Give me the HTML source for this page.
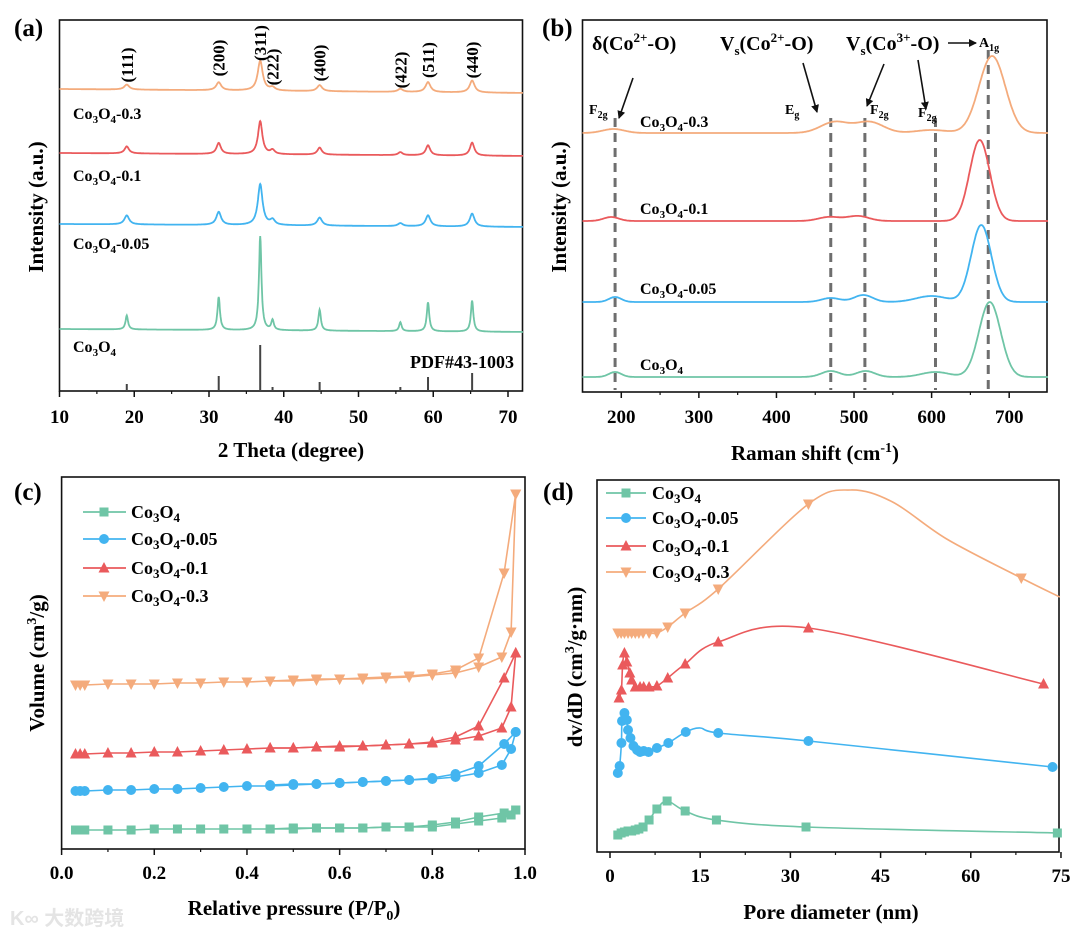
<!DOCTYPE html>
<html><head><meta charset="utf-8"><style>
html,body{margin:0;padding:0;background:#fff;}
svg{display:block;font-family:"Liberation Serif","DejaVu Serif",serif;font-weight:bold;}
</style></head><body>
<svg id="fig" width="1080" height="934" viewBox="0 0 1080 934" xmlns="http://www.w3.org/2000/svg">
<rect x="0" y="0" width="1080" height="934" fill="#fff"/>
<text x="14" y="36" font-size="25">(a)</text>
<text x="542" y="36" font-size="25">(b)</text>
<text x="14" y="500" font-size="25">(c)</text>
<text x="543" y="500" font-size="25">(d)</text>
<text x="291" y="457" font-size="21" text-anchor="middle">2 Theta (degree)</text>
<text transform="translate(43,207) rotate(-90)" font-size="21" text-anchor="middle">Intensity (a.u.)</text>
<text x="815" y="460" font-size="21" text-anchor="middle">Raman shift (cm<tspan dy="-8" font-size="14">-1</tspan><tspan dy="8">)</tspan></text>
<text transform="translate(566,207) rotate(-90)" font-size="21" text-anchor="middle">Intensity (a.u.)</text>
<text x="294" y="915" font-size="21" text-anchor="middle">Relative pressure (P/P<tspan dy="5" font-size="14">0</tspan><tspan dy="-5">)</tspan></text>
<text transform="translate(44,663) rotate(-90)" font-size="21" text-anchor="middle">Volume (cm<tspan dy="-8" font-size="14">3</tspan><tspan dy="8">/g)</tspan></text>
<text x="831" y="919" font-size="21" text-anchor="middle">Pore diameter (nm)</text>
<text transform="translate(582,667) rotate(-90)" font-size="21" text-anchor="middle">dv/dD (cm<tspan dy="-8" font-size="14">3</tspan><tspan dy="8">/g·nm)</tspan></text>
<text x="10" y="925" font-size="20" fill="#e4e4e4" font-family="'Liberation Sans','Noto Sans CJK SC',sans-serif">K∞ 大数跨境</text>
</svg>
<script>
// ---------- data ----------
const xrdPos = [19.0, 31.3, 36.85, 38.5, 44.8, 55.6, 59.3, 65.2];
const xrdLabels = ["(111)","(200)","(311)","(222)","(400)","(422)","(511)","(440)"];
const xrdHGreen = [14, 33, 94, 10, 21, 9, 29, 31];
const xrdHBlue = [9, 13, 41, 5, 8, 3, 11, 13];
const xrdHRed = [7, 11, 33, 4, 7, 3, 10, 13];
const xrdHOrange = [5, 8, 30, 3, 6, 3, 10, 12];
const xrdBaseStart = [62, 167, 238, 302];
const xrdBaseEnd = [59, 164, 235, 298];
const stickH = [7, 15, 46, 4, 9, 4, 14, 18];

const ramPosGreen = [192, 470, 515, 605, 675], ramHGreen = [5, 6, 6, 5, 75], ramWGreen = [8, 12, 12, 18, 14];
const ramPosBlue = [192, 470, 512, 600, 664], ramHBlue = [5, 4, 7, 6, 77], ramWBlue = [8, 12, 12, 20, 13];
const ramPosRed = [187, 468, 505, 662], ramHRed = [4, 4, 5, 81], ramWRed = [10, 14, 14, 13];
const ramPosOrange = [190, 475, 520, 600, 678], ramHOrange = [4, 11, 11, 3, 77], ramWOrange = [14, 18, 18, 20, 17];
const ramBase = [15, 90, 171, 259];
const ramDash = [192, 470, 514, 605, 673];

const bxAds = [0.03,0.04,0.05,0.1,0.15,0.2,0.25,0.3,0.35,0.4,0.45,0.5,0.55,0.6,0.65,0.7,0.75,0.8,0.85,0.9,0.95,0.97,0.98];
const bxDes = [0.98,0.955,0.9,0.85,0.8,0.75,0.7,0.65,0.6,0.55,0.5,0.45];
const cAdsGreen = [19,19,19,19,19,20,20,20,20,20,20,21,21,21,21,22,22,22,25,28,31,34,39];
const cDesGreen = [39,36,32,27,24,22,22,21,21,21,20,20];
const cAdsBlue = [58,58,58,59,59,60,60,61,62,63,63,64,65,66,67,68,69,70,72,76,84,100,117];
const cDesBlue = [117,105,83,75,71,69,68,67,66,65,65,64];
const cAdsRed = [95,95,95,96,96,97,97,98,99,100,101,101,102,103,103,104,105,106,109,113,121,142,196];
const cDesRed = [196,171,123,112,107,105,104,103,102,102,101,101];
const cAdsOrange = [164,164,164,165,165,165,166,166,167,167,168,168,169,170,170,171,172,174,176,182,192,217,355];
const cDesOrange = [355,276,191,179,175,173,172,171,170,170,169,168];

const dXGreen = [1.3,1.85,2.4,3.0,3.6,4.2,4.8,5.5,6.5,7.8,9.5,12.5,17.7,32.6,74.4];
const dYGreen = [17,19,20,21,21,22,23,25,32,43,51,41,32,25,19];
const dXBlue = [1.3,1.6,1.9,2.0,2.4,2.8,3.0,3.4,3.9,4.5,5.0,5.6,6.4,7.8,9.7,12.6,18.0,33.0,73.6];
const dYBlue = [79,86,109,131,139,132,122,114,106,102,100,101,100,104,109,120,119,111,85];
const dXRed = [1.5,1.9,2.1,2.4,2.8,3.3,3.6,4.2,5.0,5.6,6.5,7.8,9.6,12.5,18.0,33.0,72.1];
const dYRed = [154,162,187,199,190,179,172,165,165,165,165,166,174,188,210,224,168];
const dXOrange = [1.3,1.85,2.4,3.0,3.6,4.2,4.8,5.5,6.5,7.8,9.6,12.5,18.0,33.0,68.4];
const dYOrange = [219,219,219,219,219,219,219,219,219,219,225,239,263,348,274];
const knotXBlue = [15], knotYBlue = [124];
const knotXRed = [], knotYRed = [];
const knotXOrange = [40, 47, 56, 74.8], knotYOrange = [362, 350, 313, 255];

const tickA = [10,20,30,40,50,60,70];
const tickB = [200,300,400,500,600,700];
const tickC = [0,0.2,0.4,0.6,0.8,1.0];
const tickD = [0,15,30,45,60,75];

// ---------- helpers ----------
const NS = "http://www.w3.org/2000/svg";
const svg = document.getElementById("fig");
const COL = {green:"#6fc5a6", blue:"#42b4f0", red:"#ea5a5c", orange:"#f4ab7c"};
function add(parent, tag, attrs, name, inter) {
  const el = document.createElementNS(NS, tag);
  for (const k in attrs) el.setAttribute(k, attrs[k]);
  
  
  parent.appendChild(el);
  return el;
}
function coText(parent, x, y, suffix, size, name, anchor) {
  const t = add(parent, "text", {x:x, y:y, "font-size":size, "text-anchor":anchor||"start"}, name, false);
  t.innerHTML = 'Co<tspan dy="4" font-size="' + Math.round(size*0.7) + '">3</tspan><tspan dy="-4">O</tspan><tspan dy="4" font-size="' + Math.round(size*0.7) + '">4</tspan><tspan dy="-4">' + suffix + '</tspan>';
  return t;
}
const xa = v => 59.5 + (v - 10) * 7.475, ya = v => 391 - v;
const xb = v => 582.5 + (v - 150) * 0.7758, yb = v => 392 - v;
const xc = v => 61.6 + v * 463.4, yc = v => 849 - v;
const xd = v => 610 + v * 6.013, yd = v => 852 - v;

function axesBox(x0, y0, x1, y1, ticks, xs, fmt, minors, labelY, name) {
  add(svg, "rect", {x:x0, y:y0, width:x1-x0, height:y1-y0, fill:"none", stroke:"#111", "stroke-width":1.6}, name + "-frame", false);
  ticks.forEach(t => {
    add(svg, "line", {x1:xs(t), x2:xs(t), y1:y1, y2:y1+6, stroke:"#111", "stroke-width":1.5}, name + "-tick", false);
    const lb = add(svg, "text", {x:xs(t), y:labelY, "font-size":19, "text-anchor":"middle"}, name + "-tick-label", false);
    lb.textContent = fmt(t);
  });
  minors.forEach(t => {
    add(svg, "line", {x1:xs(t), x2:xs(t), y1:y1, y2:y1+3, stroke:"#111", "stroke-width":1.2}, name + "-minor-tick", false);
  });
}
function pathOf(xs, ys, fx, fy) {
  let d = "";
  for (let i = 0; i < xs.length; i++) d += (i ? "L" : "M") + fx(xs[i]).toFixed(1) + "," + fy(ys[i]).toFixed(1);
  return d;
}
function smoothPath(xs, ys, fx, fy) {
  const P = xs.map((x, i) => [fx(x), fy(ys[i])]);
  let d = "M" + P[0][0].toFixed(1) + "," + P[0][1].toFixed(1);
  for (let i = 0; i < P.length - 1; i++) {
    const p0 = P[Math.max(0, i-1)], p1 = P[i], p2 = P[i+1], p3 = P[Math.min(P.length-1, i+2)];
    const k = 1/6;
    const c1 = [p1[0] + (p2[0]-p0[0])*k, p1[1] + (p2[1]-p0[1])*k];
    const c2 = [p2[0] - (p3[0]-p1[0])*k, p2[1] - (p3[1]-p1[1])*k];
    d += "C" + c1.map(v=>v.toFixed(1)).join(",") + " " + c2.map(v=>v.toFixed(1)).join(",") + " " + p2.map(v=>v.toFixed(1)).join(",");
  }
  return d;
}
function marker(kind, x, y, color, name) {
  if (kind === "square") return add(svg, "rect", {x:x-4.5, y:y-4.5, width:9, height:9, fill:color}, name, false);
  if (kind === "circle") return add(svg, "circle", {cx:x, cy:y, r:5, fill:color}, name, false);
  if (kind === "up") return add(svg, "polygon", {points:`${x},${y-6} ${x-5.5},${y+4.5} ${x+5.5},${y+4.5}`, fill:color}, name, false);
  return add(svg, "polygon", {points:`${x},${y+6} ${x-5.5},${y-4.5} ${x+5.5},${y-4.5}`, fill:color}, name, false);
}

// ---------- panel a: XRD ----------
axesBox(59.5, 20, 522.5, 391, tickA, xa, t => t, [15,25,35,45,55,65], 423, "xrd-axis");
const xrdSets = [["green", xrdHGreen, 0.2], ["blue", xrdHBlue, 0.38], ["red", xrdHRed, 0.35], ["orange", xrdHOrange, 0.4]];
xrdSets.forEach((s, si) => {
  const xs = [], ys = [];
  for (let t = 10; t <= 72.001; t += 0.05) {
    let v = xrdBaseStart[si] + (xrdBaseEnd[si] - xrdBaseStart[si]) * (t - 10) / 62;
    xrdPos.forEach((p, i) => { const u = (t - p) / s[2]; v += s[1][i] / (1 + u*u); });
    xs.push(t); ys.push(v);
  }
  add(svg, "path", {d:pathOf(xs, ys, xa, ya), fill:"none", stroke:COL[s[0]], "stroke-width":1.8}, "xrd-trace-" + s[0], false);
});
xrdPos.forEach((p, i) => {
  add(svg, "line", {x1:xa(p), x2:xa(p), y1:391, y2:391-stickH[i], stroke:"#444", "stroke-width":2}, "pdf-stick", false);
  const ly = [65,58,43,67,63,70,60,60][i];
  const tl = add(svg, "text", {transform:`translate(${xa(p)+6},${ly}) rotate(-90)`, "font-size":17, "text-anchor":"middle"}, "hkl-label", false);
  tl.textContent = xrdLabels[i];
});
coText(svg, 73, 119, "-0.3", 16, "xrd-label-0.3");
coText(svg, 73, 181, "-0.1", 16, "xrd-label-0.1");
coText(svg, 73, 249, "-0.05", 16, "xrd-label-0.05");
coText(svg, 73, 352, "", 16, "xrd-label-co3o4");
const pdf = add(svg, "text", {x:514, y:368, "font-size":18, "text-anchor":"end"}, "pdf-label", false);
pdf.textContent = "PDF#43-1003";

// ---------- panel b: Raman ----------
axesBox(582.5, 20, 1047, 392, tickB, xb, t => t, [250,350,450,550,650], 423, "raman-axis");
ramDash.forEach((p, i) => {
  add(svg, "line", {x1:xb(p), x2:xb(p), y1:(i === 4 ? 50 : 118), y2:390, stroke:"#6e6e6e", "stroke-width":3, "stroke-dasharray":"9,6"}, "raman-dashed-line", false);
});
const ramSets = [["green", ramPosGreen, ramHGreen, ramWGreen], ["blue", ramPosBlue, ramHBlue, ramWBlue], ["red", ramPosRed, ramHRed, ramWRed], ["orange", ramPosOrange, ramHOrange, ramWOrange]];
ramSets.forEach((s, si) => {
  const xs = [], ys = [];
  for (let t = 150; t <= 750; t += 1) {
    let v = ramBase[si];
    s[1].forEach((p, i) => { const u = (t - p) / s[3][i]; v += s[2][i] * Math.exp(-0.5*u*u); });
    xs.push(t); ys.push(v);
  }
  add(svg, "path", {d:pathOf(xs, ys, xb, yb), fill:"none", stroke:COL[s[0]], "stroke-width":1.8}, "raman-trace-" + s[0], false);
});
coText(svg, 640, 127, "-0.3", 16, "raman-label-0.3");
coText(svg, 640, 214, "-0.1", 16, "raman-label-0.1");
coText(svg, 640, 294, "-0.05", 16, "raman-label-0.05");
coText(svg, 640, 370, "", 16, "raman-label-co3o4");
const ann = [[592, 50, 'δ(Co<tspan dy="-8" font-size="13">2+</tspan><tspan dy="8">-O)</tspan>', "delta-co2-label"],
             [720, 50, 'V<tspan dy="5" font-size="13">s</tspan><tspan dy="-5">(Co</tspan><tspan dy="-8" font-size="13">2+</tspan><tspan dy="8">-O)</tspan>', "vs-co2-label"],
             [846, 50, 'V<tspan dy="5" font-size="13">s</tspan><tspan dy="-5">(Co</tspan><tspan dy="-8" font-size="13">3+</tspan><tspan dy="8">-O)</tspan>', "vs-co3-label"]];
ann.forEach(a => { const t = add(svg, "text", {x:a[0], y:a[1], "font-size":20}, a[3], false); t.innerHTML = a[2]; });
const modes = [[589, 114, "F", "2g"], [785, 114, "E", "g"], [870, 114, "F", "2g"], [918, 117, "F", "2g"], [979, 47, "A", "1g"]];
modes.forEach(m => { const t = add(svg, "text", {x:m[0], y:m[1], "font-size":14}, "mode-label", false); t.innerHTML = m[2] + '<tspan dy="4" font-size="10">' + m[3] + '</tspan>'; });
const defs = add(svg, "defs", {}, "defs", false);
const mk = add(defs, "marker", {id:"ah", markerWidth:8, markerHeight:8, refX:7, refY:4, orient:"auto", markerUnits:"userSpaceOnUse"}, "arrowhead", false);
add(mk, "path", {d:"M0,0 L8,4 L0,8 Z", fill:"#111"}, "arrowhead-shape", false);
[[633,78,619,118],[803,63,817,112],[884,64,867,106],[918,60,926,109],[948,43,976,43]].forEach(a => {
  add(svg, "line", {x1:a[0], y1:a[1], x2:a[2], y2:a[3], stroke:"#111", "stroke-width":1.6, "marker-end":"url(#ah)"}, "annotation-arrow", false);
});

// ---------- panel c: isotherms ----------
axesBox(61.6, 477, 525, 849, tickC, xc, t => t.toFixed(1), [0.1,0.3,0.5,0.7,0.9], 879, "bet-axis");
const cSets = [["green","square",cAdsGreen,cDesGreen],["blue","circle",cAdsBlue,cDesBlue],["red","up",cAdsRed,cDesRed],["orange","down",cAdsOrange,cDesOrange]];
cSets.forEach(s => {
  add(svg, "path", {d:pathOf(bxAds, s[2], xc, yc), fill:"none", stroke:COL[s[0]], "stroke-width":1.6}, "isotherm-adsorption-" + s[0], false);
  add(svg, "path", {d:pathOf(bxDes, s[3], xc, yc), fill:"none", stroke:COL[s[0]], "stroke-width":1.6}, "isotherm-desorption-" + s[0], false);
  bxAds.forEach((x, i) => marker(s[1], xc(x), yc(s[2][i]), COL[s[0]], "isotherm-point-" + s[0]));
  bxDes.forEach((x, i) => marker(s[1], xc(x), yc(s[3][i]), COL[s[0]], "isotherm-point-" + s[0]));
});
const legC = [[512,""],[539,"-0.05"],[568,"-0.1"],[596,"-0.3"]];
cSets.forEach((s, i) => {
  const y = legC[i][0];
  add(svg, "line", {x1:83, x2:126, y1:y, y2:y, stroke:COL[s[0]], "stroke-width":1.8}, "legend-line-c", false);
  marker(s[1], 104, y, COL[s[0]], "legend-marker-c");
  coText(svg, 131, y + 6, legC[i][1], 18, "legend-entry-c");
});

// ---------- panel d: pore size ----------
axesBox(597, 480, 1059, 852, tickD, xd, t => t, [7.5,22.5,37.5,52.5,67.5], 882, "psd-axis");
function merge(xs, ys, kx, ky) {
  const pts = xs.map((x, i) => [x, ys[i]]).concat(kx.map((x, i) => [x, ky[i]])).sort((a, b) => a[0] - b[0]);
  return [pts.map(p => p[0]), pts.map(p => p[1])];
}
const dSets = [["green","square",dXGreen,dYGreen,[],[]],["blue","circle",dXBlue,dYBlue,knotXBlue,knotYBlue],["red","up",dXRed,dYRed,knotXRed,knotYRed],["orange","down",dXOrange,dYOrange,knotXOrange,knotYOrange]];
dSets.forEach(s => {
  const m = merge(s[2], s[3], s[4], s[5]);
  add(svg, "path", {d:smoothPath(m[0], m[1], xd, yd), fill:"none", stroke:COL[s[0]], "stroke-width":1.6}, "psd-curve-" + s[0], false);
  s[2].forEach((x, i) => marker(s[1], xd(x), yd(s[3][i]), COL[s[0]], "psd-point-" + s[0]));
});
const legD = [[493,""],[518,"-0.05"],[546,"-0.1"],[572,"-0.3"]];
dSets.forEach((s, i) => {
  const y = legD[i][0];
  add(svg, "line", {x1:606, x2:646, y1:y, y2:y, stroke:COL[s[0]], "stroke-width":1.8}, "legend-line-d", false);
  marker(s[1], 626, y, COL[s[0]], "legend-marker-d");
  coText(svg, 652, y + 6, legD[i][1], 18, "legend-entry-d");
});
</script>
</body></html>
